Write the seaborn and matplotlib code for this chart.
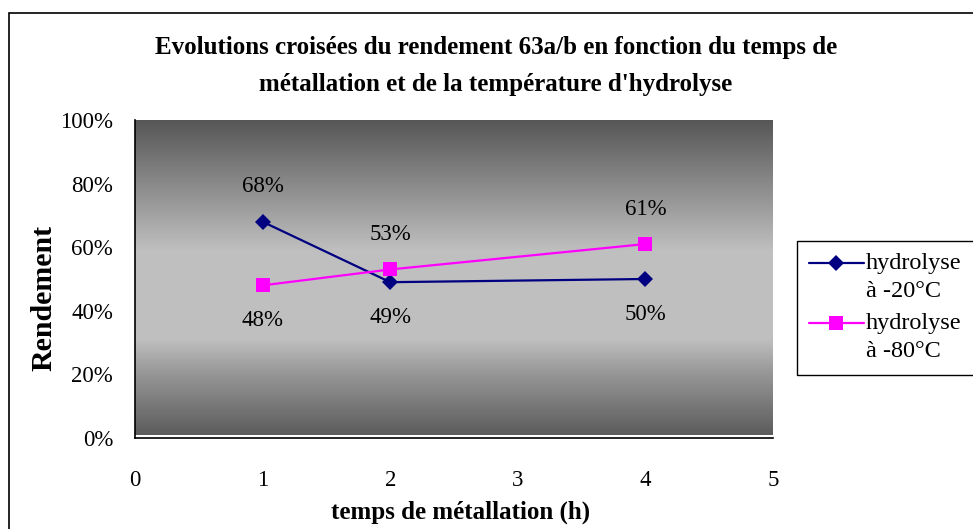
import numpy as np
import pandas as pd
import matplotlib
matplotlib.use("Agg")
import matplotlib.pyplot as plt
from matplotlib.colors import LinearSegmentedColormap
from matplotlib.patches import Rectangle
from matplotlib.legend_handler import HandlerLine2D
import seaborn as sns

# Data: yield vs metalation time, for two hydrolysis temperatures
temps_h = [1, 2, 4]
rdt_m20 = [0.68, 0.49, 0.50]
rdt_m80 = [0.48, 0.53, 0.61]
series_names = ["hydrolyse\nà -20°C", "hydrolyse\nà -80°C"]
x_ticks = [0, 1, 2, 3, 4, 5]
y_ticks = [0.0, 0.2, 0.4, 0.6, 0.8, 1.0]
y_ticklabels = ["0%", "20%", "40%", "60%", "80%", "100%"]

# label placement: +1 above the point, -1 below
pos_m20 = [1, -1, -1]
pos_m80 = [-1, 1, 1]

df = pd.DataFrame({
    "temps": temps_h * 2,
    "rendement": rdt_m20 + rdt_m80,
    "serie": [series_names[0]] * 3 + [series_names[1]] * 3,
})

sns.set_theme(style="white")
plt.rcParams["font.family"] = ["Liberation Serif", "DejaVu Serif"]
plt.rcParams["text.color"] = "black"
plt.rcParams["axes.labelcolor"] = "black"

W, H = 973, 529
FS = 16.5
fig = plt.figure(figsize=(W / 100, H / 100), dpi=100)
fig.patch.set_facecolor("white")

ax = fig.add_axes([135 / W, 1 - 438 / H, (773 - 135) / W, (438 - 120) / H])
ax.set_xlim(0, 5)
ax.set_ylim(0, 1)

# vertical grey gradient of the plot area
g = LinearSegmentedColormap.from_list(
    "bg",
    [(0.0, (0.33, 0.33, 0.33)), (0.42, (0.75, 0.75, 0.75)),
     (0.70, (0.75, 0.75, 0.75)), (0.80, (0.60, 0.60, 0.60)),
     (1.0, (0.36, 0.36, 0.36))])
grad = np.linspace(0, 1, 256).reshape(-1, 1)
ax.imshow(grad, cmap=g, aspect="auto", extent=(0, 5, 0.008, 1.006),
          origin="upper", zorder=0)

palette = {series_names[0]: "#000080", series_names[1]: "#FF00FF"}
markers = {series_names[0]: "D", series_names[1]: "s"}
sns.lineplot(data=df, x="temps", y="rendement", hue="serie", style="serie",
             palette=palette, markers=markers, dashes=False, linewidth=1.6,
             markersize=9, markeredgewidth=0, ax=ax, zorder=3, legend=True)
for line in ax.lines:
    if line.get_marker() == "D":
        line.set_markersize(8.5)
    elif line.get_marker() == "s":
        line.set_markersize(9.5)

for vals, pos in ((rdt_m20, pos_m20), (rdt_m80, pos_m80)):
    for xv, yv, p in zip(temps_h, vals, pos):
        ax.annotate(f"{round(yv * 100):d}%", (xv, yv), xytext=(0, 35 * p),
                    textcoords="offset pixels", ha="center", va="center",
                    fontsize=FS, color="black", zorder=4)

ax.set_xticks(x_ticks)
ax.set_xticklabels([str(t) for t in x_ticks])
ax.set_yticks(y_ticks)
ax.set_yticklabels(y_ticklabels)
ax.tick_params(axis="both", which="major", direction="out", length=5.8,
               width=1, color="black", labelsize=FS, labelcolor="black")
ax.tick_params(axis="x", pad=17)
ax.tick_params(axis="y", pad=10)
for s in ("top", "right"):
    ax.spines[s].set_visible(False)
for s in ("left", "bottom"):
    ax.spines[s].set_color("black")
    ax.spines[s].set_linewidth(1.2)

ax.set_xlabel("temps de métallation (h)", fontsize=18, fontweight="bold")
ax.xaxis.set_label_coords((461 - 135) / 638, (438 - 512) / 318)
ax.xaxis.label.set_verticalalignment("center")
ax.set_ylabel("Rendement", fontsize=21.5, fontweight="bold")
ax.yaxis.set_label_coords((44 - 135) / 638, (438 - 298) / 318)
ax.yaxis.label.set_verticalalignment("center")
ax.yaxis.label.set_horizontalalignment("center")

fig.text(496 / W, 1 - 66 / H,
         "Evolutions croisées du rendement 63a/b en fonction du temps de\n"
         "métallation et de la température d'hydrolyse",
         ha="center", va="center", fontsize=18, fontweight="bold",
         linespacing=1.75)


class FirstLineHandler(HandlerLine2D):
    """Place the legend sample level with the first line of a two-line label."""

    def create_artists(self, legend, orig_handle, xdescent, ydescent,
                       width, height, fontsize, trans):
        return super().create_artists(legend, orig_handle, xdescent,
                                      ydescent - 20, width, height,
                                      fontsize, trans)


LFS = 17.5
handles, labels = ax.get_legend_handles_labels()
leg = ax.legend(handles, labels, loc="upper left", mode="expand",
                bbox_to_anchor=(797 / W, 1 - 241 / H, 220 / W, 0),
                bbox_transform=fig.transFigure, frameon=True, fancybox=False,
                edgecolor="black", fontsize=LFS, handlelength=2.25,
                handletextpad=0.1, labelspacing=0.45, borderpad=0.5,
                borderaxespad=0,
                handler_map={h: FirstLineHandler() for h in handles})
for t in leg.get_texts():
    t.set_linespacing(1.45)
leg.get_frame().set_linewidth(1.0)
leg.get_frame().set_facecolor("white")
leg.get_frame().set_alpha(1)

# outer chart frame (runs past the right and bottom edges)
fig.patches.append(Rectangle((9 / W, -0.2), 1.2, 0.2 + (1 - 13 / H),
                             transform=fig.transFigure, fill=False,
                             edgecolor="black", linewidth=1.2))

fig.savefig("out.png", dpi=100)
